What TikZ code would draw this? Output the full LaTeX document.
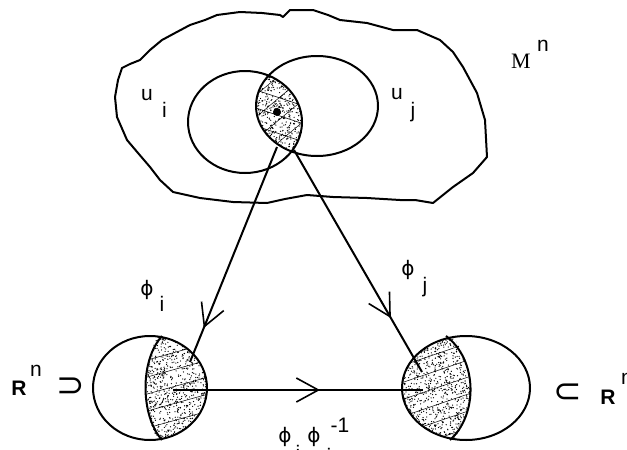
\documentclass[tikz,border=0pt]{standalone}
\usepackage{fontspec}
\setmainfont{Liberation Sans}
\newfontfamily\serifM{Liberation Serif}
\newfontfamily\djv{DejaVu Sans}
\usetikzlibrary{arrows.meta,decorations.markings}
\tikzset{
  bigbarb/.tip={Straight Barb[length=22pt,width=24pt,line width=1.6pt]},
}
\begin{document}
\begin{tikzpicture}[x=1pt,y=-1pt,
  thickline/.style={line width=2pt, line join=round},
  hatch/.style={line width=0.5pt},
  lbl/.style={inner sep=0pt, font=\fontsize{21}{24}\selectfont},
  rlbl/.style={inner sep=0pt, font=\bfseries\fontsize{21}{24}\selectfont},
  mlbl/.style={inner sep=0pt, font=\serifM\fontsize{22}{26}\selectfont},
  phil/.style={inner sep=0pt, font=\djv\fontsize{20}{24}\selectfont},
  setl/.style={inner sep=0pt, font=\djv\fontsize{34}{36}\selectfont},
  midarrow/.style={postaction={decorate},decoration={markings,mark=at position #1 with {\arrow{bigbarb}}}},
]
\useasboundingbox (0,0) rectangle (627,450);
\fill[white] (0,0) rectangle (627,450);

% outer region M^n
\draw[thickline] (115,97) -- (118,80) -- (122,68) -- (130,64) -- (140,60) -- (150,50) -- (162,40) -- (175,33) -- (190,25) -- (205,20) -- (217,15) -- (240,12) -- (262,13) -- (280,15) -- (283,17) -- (290,10) -- (313,10) -- (328,15) -- (340,20) -- (367,23) -- (393,30) -- (417,30) -- (440,40) -- (453,52) -- (463,67) -- (477,93) -- (485,120) -- (487,157) -- (473,173) -- (453,187) -- (433,203) -- (415,200) -- (400,200) -- (367,198) -- (333,197) -- (307,195) -- (285,199) -- (267,203) -- (233,202) -- (200,198) -- (173,192) -- (160,180) -- (150,167) -- (138,153) -- (127,140) -- (117,117) -- cycle;

% lens shading
\pgfmathsetseed{7}
\begin{scope}
  \clip (245,122) ellipse [x radius=57pt, y radius=51pt];
  \clip (317,106) ellipse [x radius=61pt, y radius=50pt];
  \foreach \k in {1,...,650} { \fill ({250+rnd*55},{68+rnd*88}) circle (0.65pt); }
  \foreach \o in {0,18,...,90} { \draw[hatch] (250,{70+\o}) -- (310,{90+\o}); }
  \foreach \o in {0,22,...,110} { \draw[hatch] (250,{100+\o}) -- (310,{50+\o}); }
\end{scope}
\draw[thickline] (245,122) ellipse [x radius=57pt, y radius=51pt];
\draw[thickline] (317,106) ellipse [x radius=61pt, y radius=50pt];
\coordinate (pt) at (277,112);
\fill (pt) circle (4pt);

% left disc
\begin{scope}
  \clip (150,388) ellipse [x radius=57pt, y radius=52pt];
  \clip (162,330) .. controls (140,360) and (140,415) .. (162,446) -- (220,446) -- (220,330) -- cycle;
  \foreach \k in {1,...,1000} { \fill ({140+rnd*70},{334+rnd*110}) circle (0.65pt); }
  \foreach \o in {0,17,...,110} { \draw[hatch] (140,{345+\o}) -- (212,{325+\o}); }
\end{scope}
\draw[thickline] (150,388) ellipse [x radius=57pt, y radius=52pt];
\draw[thickline] (162,336) .. controls (140,360) and (140,415) .. (162,440);

% right disc
\begin{scope}
  \clip (466,388) ellipse [x radius=64pt, y radius=52pt];
  \clip (446,330) .. controls (478,360) and (478,415) .. (448,446) -- (395,446) -- (395,330) -- cycle;
  \foreach \k in {1,...,1150} { \fill ({400+rnd*80},{334+rnd*110}) circle (0.65pt); }
  \foreach \o in {0,17,...,120} { \draw[hatch] (398,{350+\o}) -- (480,{322+\o}); }
\end{scope}
\draw[thickline] (466,388) ellipse [x radius=64pt, y radius=52pt];
\draw[thickline] (446,336) .. controls (478,360) and (478,415) .. (450,440);

% connectors
\coordinate (lensL) at (277,147);
\coordinate (lensR) at (294,150);
\coordinate (endL) at (190,362);
\coordinate (endR) at (422,372);
\coordinate (hS) at (173,390);
\coordinate (hE) at (423,390);
\draw[thickline, midarrow=0.842] (lensL) -- (endL);
\draw[thickline, midarrow=0.757] (lensR) -- (endR);
\draw[thickline, midarrow=0.588] (hS) -- (hE);

% labels
\node[lbl] (ui) at (147,95) {u};
\node[lbl] (uisub) at (164.5,110) {i};
\node[lbl] (uj) at (397,94) {u};
\node[lbl] (ujsub) at (413,112) {j};
\node[mlbl] (M) at (521,61) {M};
\node[lbl] (Msup) at (543,46) {n};

\node[phil] (phii) at (147,290) {ϕ};
\node[lbl] (phiisub) at (162,304) {i};
\node[phil] (phij) at (408,270) {ϕ};
\node[lbl] (phijsub) at (425,287) {j};

\node[phil] (tphij) at (285,437) {ϕ};
\node[lbl] (tphijsub) at (298,455) {j};
\node[phil] (tphii) at (314,437) {ϕ};
\node[lbl] (tphiisub) at (329,456) {i};
\node[lbl] (tinv) at (340,425) {-1};

\node[rlbl] (Rl) at (19,388) {R};
\node[lbl] (Rlsup) at (36,371) {n};
\node[setl] (supset) at (71,387) {⊃};
\node[setl] (subset) at (568,393) {⊂};
\node[rlbl] (Rr) at (608,397) {R};
\node[lbl, anchor=west] (Rrsup) at (621,379) {n};
\end{tikzpicture}
\end{document}
